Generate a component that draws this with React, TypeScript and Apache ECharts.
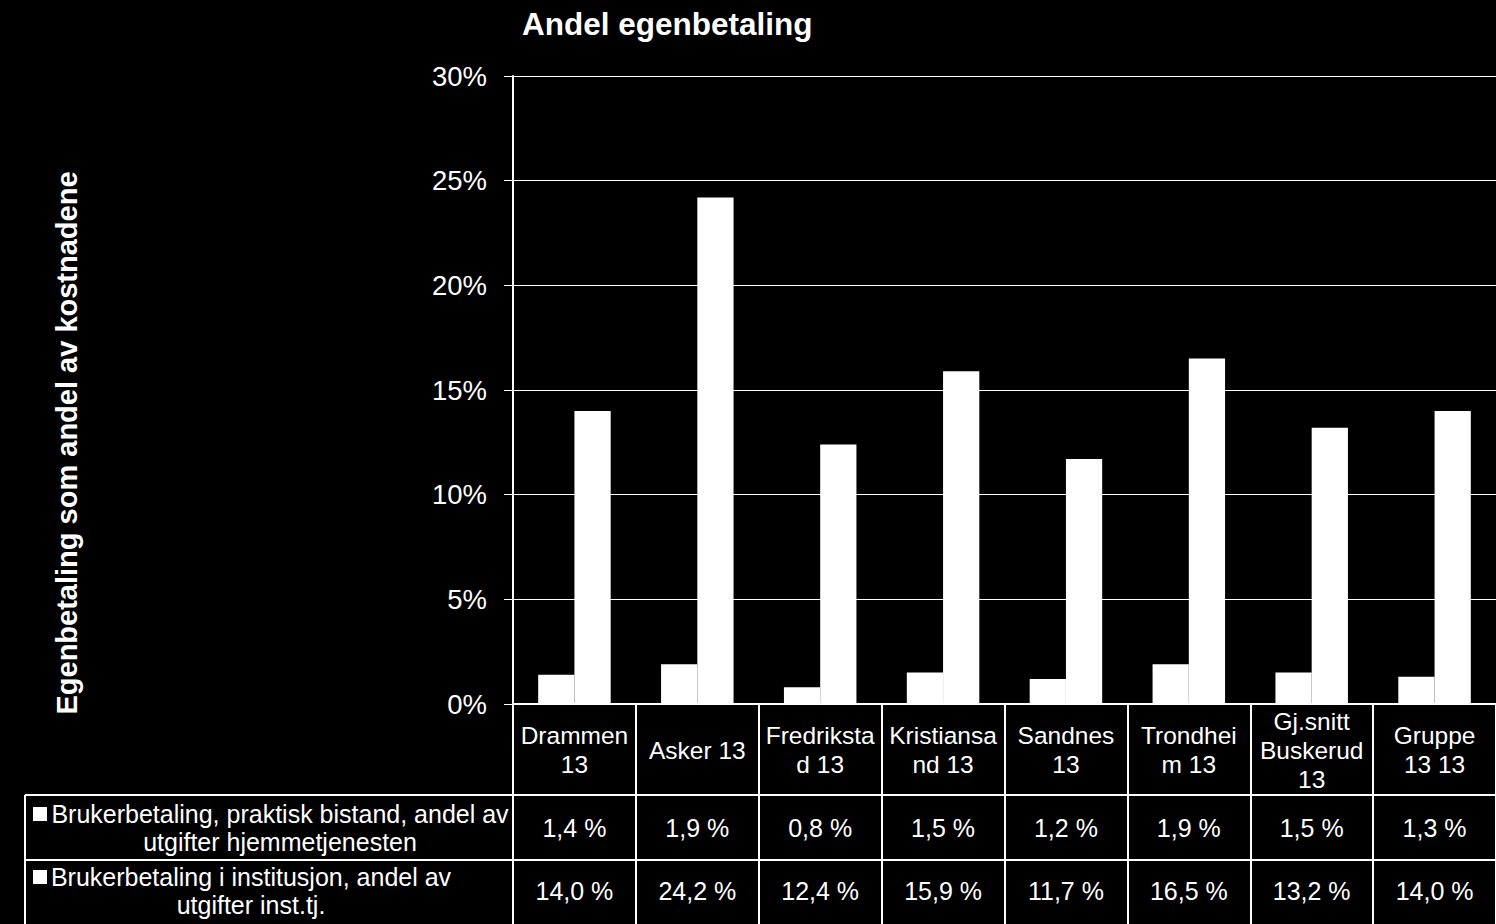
import React, { useEffect, useRef } from "react";
import * as echarts from "echarts";

const categories = [
  "Drammen 13",
  "Asker 13",
  "Fredrikstad 13",
  "Kristiansand 13",
  "Sandnes 13",
  "Trondheim 13",
  "Gj.snitt Buskerud 13",
  "Gruppe 13 13",
];
const categoryLabels = [
  "Drammen\n13",
  "Asker 13",
  "Fredriksta\nd 13",
  "Kristiansa\nnd 13",
  "Sandnes\n13",
  "Trondhei\nm 13",
  "Gj.snitt\nBuskerud\n13",
  "Gruppe\n13 13",
];
const seriesNames = [
  "Brukerbetaling, praktisk bistand, andel av utgifter hjemmetjenesten",
  "Brukerbetaling i institusjon, andel av utgifter inst.tj.",
];
const legendLabels = [
  "Brukerbetaling, praktisk bistand, andel av\nutgifter hjemmetjenesten",
  "Brukerbetaling i institusjon, andel av\nutgifter inst.tj.",
];
const praktiskBistand = [1.4, 1.9, 0.8, 1.5, 1.2, 1.9, 1.5, 1.3];
const institusjon = [14.0, 24.2, 12.4, 15.9, 11.7, 16.5, 13.2, 14.0];
const yMin = 0;
const yMax = 30;
const yStep = 5;
const chartTitle = "Andel egenbetaling";
const yTitle = "Egenbetaling som andel av kostnadene";

const FONT = "'Liberation Sans', Arial, sans-serif";
const W = 1496;
const H = 924;
const GRID_LEFT = 513;
const GRID_TOP = 76;
const GRID_BOTTOM = 220;

const fmt = (v: number) => v.toFixed(1).replace(".", ",") + " %";

export default function App() {
  const ref = useRef<HTMLDivElement>(null);

  useEffect(() => {
    if (!ref.current) return;
    const chart = echarts.init(ref.current, null, { renderer: "svg" });
    const white = "#ffffff";

    chart.setOption({
      animation: false,
      backgroundColor: "#000000",
      textStyle: { fontFamily: FONT },
      grid: { left: GRID_LEFT, right: 0, top: GRID_TOP, bottom: GRID_BOTTOM, containLabel: false },
      xAxis: {
        type: "category",
        data: categories,
        axisLine: { show: true, lineStyle: { color: white, width: 2 } },
        axisTick: { show: true, length: GRID_BOTTOM, interval: 0, lineStyle: { color: white, width: 2 } },
        axisLabel: {
          interval: 0,
          color: white,
          fontSize: 24.5,
          lineHeight: 29,
          fontFamily: FONT,
          verticalAlign: "middle",
          margin: 46,
          formatter: (_v: string, i: number) => categoryLabels[i],
        },
      },
      yAxis: {
        type: "value",
        min: yMin,
        max: yMax,
        interval: yStep,
        axisLine: { show: true, lineStyle: { color: white, width: 2 } },
        axisTick: { show: true, length: 9, lineStyle: { color: white, width: 1 } },
        splitLine: { show: true, lineStyle: { color: white, width: 1 } },
        axisLabel: {
          color: white,
          fontSize: 27.5,
          fontFamily: FONT,
          margin: 26,
          formatter: (v: number) => `${v}%`,
        },
      },
      series: [
        {
          name: seriesNames[0],
          type: "bar",
          data: praktiskBistand,
          itemStyle: { color: white },
          barGap: "0%",
          barCategoryGap: "41%",
        },
        {
          name: seriesNames[1],
          type: "bar",
          data: institusjon,
          itemStyle: { color: white },
          barGap: "0%",
          barCategoryGap: "41%",
        },
      ],
    });

    const rowY = [828, 891];
    const rowData = [praktiskBistand, institusjon];
    const legendCenters = [280, 251];
    const graphics: any[] = [];

    graphics.push({
      type: "text",
      x: 522,
      y: 24,
      style: { text: chartTitle, fill: white, font: `bold 31.5px ${FONT}`, align: "left", verticalAlign: "middle" },
    });
    graphics.push({
      type: "text",
      x: 67,
      y: 443,
      rotation: Math.PI / 2,
      style: { text: yTitle, fill: white, font: `bold 29px ${FONT}`, align: "center", verticalAlign: "middle" },
    });

    // table lines
    const lineStyle = { stroke: white, lineWidth: 2 };
    graphics.push({ type: "line", shape: { x1: 25, y1: 795, x2: W, y2: 795 }, style: lineStyle });
    graphics.push({ type: "line", shape: { x1: 25, y1: 860, x2: W, y2: 860 }, style: lineStyle });
    graphics.push({ type: "line", shape: { x1: 25, y1: 795, x2: 25, y2: H }, style: lineStyle });

    rowData.forEach((arr, r) => {
      graphics.push({
        type: "rect",
        shape: { x: 33, y: rowY[r] - 21, width: 14, height: 14 },
        style: { fill: white },
      });
      graphics.push({
        type: "text",
        x: legendCenters[r],
        y: rowY[r],
        style: {
          text: legendLabels[r],
          fill: white,
          font: `25px ${FONT}`,
          lineHeight: 28,
          align: "center",
          verticalAlign: "middle",
        },
      });
      arr.forEach((v, i) => {
        const px = chart.convertToPixel({ xAxisIndex: 0 }, i) as number;
        graphics.push({
          type: "text",
          x: px,
          y: rowY[r],
          style: { text: fmt(v), fill: white, font: `25px ${FONT}`, align: "center", verticalAlign: "middle" },
        });
      });
    });

    chart.setOption({ graphic: graphics });

    return () => chart.dispose();
  }, []);

  return (
    <div
      ref={ref}
      style={{ position: "fixed", left: 0, top: 0, width: W, height: H, background: "#000" }}
    />
  );
}
